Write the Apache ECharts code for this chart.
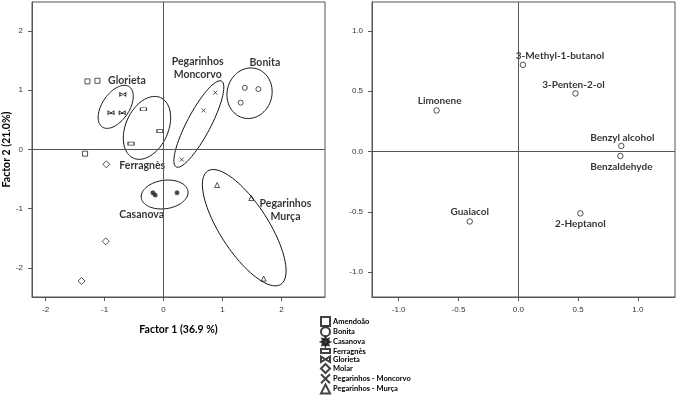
<!DOCTYPE html>
<html>
<head>
<meta charset="utf-8">
<script src="https://cdn.jsdelivr.net/npm/echarts@6/dist/echarts.min.js"></script>
<style>
  html, body { margin: 0; padding: 0; background: #fff; }
  #chart { width: 677px; height: 400px; }
</style>
</head>
<body>
<div id="chart"></div>
<script>
// ---- data: left panel (cultivar scores) ----
var amendoao = [[-1.29, 1.15], [-1.12, 1.16], [-1.33, -0.07]]
var bonita = [[1.38, 1.04], [1.61, 1.02], [1.31, 0.79]]
var casanova = [[-0.18, -0.73], [-0.14, -0.77], [0.23, -0.73]]
var ferragnes = [[-0.34, 0.68], [-0.06, 0.31], [-0.55, 0.10]]
var glorieta = [[-0.69, 0.93], [-0.89, 0.62], [-0.70, 0.62]]
var molar = [[-0.97, -0.25], [-0.98, -1.55], [-1.39, -2.22]]
var moncorvo = [[0.88, 0.96], [0.68, 0.66], [0.31, -0.17]]
var murca = [[0.91, -0.60], [1.49, -0.82], [1.70, -2.18]]

// group ellipses: cx, cy, semi-axis a, semi-axis b, angle (deg)
var ellipses = [
  [-0.81, 0.72, 0.41, 0.23, 56],
  [-0.28, 0.365, 0.56, 0.36, 65.5],
  [0.60, 0.43, 0.82, 0.20, 62],
  [1.46, 0.95, 0.43, 0.38, 75],
  [0.02, -0.76, 0.40, 0.24, 8],
  [1.37, -1.32, 1.14, 0.41, -57]
]
var groupLabels = [
  [-0.62, 1.16, 'Glorieta'],
  [0.58, 1.37, 'Pegarinhos\nMoncorvo'],
  [1.72, 1.47, 'Bonita'],
  [-0.36, -0.27, 'Ferragnès'],
  [-0.37, -1.10, 'Casanova'],
  [2.07, -1.02, 'Pegarinhos\nMurça']
]
var leftTicks = [-2, -1, 0, 1, 2]

// ---- data: right panel (compound loadings) ----
var compounds = ['Limonene', '3-Methyl-1-butanol', '3-Penten-2-ol', 'Benzyl alcohol', 'Benzaldehyde', 'Guaiacol', '2-Heptanol']
var compX = [-0.683, 0.039, 0.478, 0.861, 0.853, -0.406, 0.519]
var compY = [0.341, 0.719, 0.482, 0.047, -0.036, -0.579, -0.512]
var rightTicks = [-1, -0.5, 0, 0.5, 1]

var legendNames = ['Amendoão', 'Bonita', 'Casanova', 'Ferragnès', 'Glorieta', 'Molar', 'Pegarinhos - Moncorvo', 'Pegarinhos - Murça']

// ---- styles ----
var axisColor = '#555'
var boldFont = 'Lato'
var starPath = 'path://M10,0L5.54,2.3L7.07,7.07L2.3,5.54L0,10L-2.3,5.54L-7.07,7.07L-5.54,2.3L-10,0L-5.54,-2.3L-7.07,-7.07L-2.3,-5.54L0,-10L2.3,-5.54L7.07,-7.07L5.54,-2.3Z'
var rectPath = 'path://M0,0H18V8H0Z'
var bowPath = 'path://M0,0L0,6L10,0L10,6Z'
var crossPath = 'path://M0,0L10,10M10,0L0,10'

var openStyle = { color: 'rgba(0,0,0,0)', borderColor: '#111', borderWidth: 0.9 }
var labelPlace = {
  'Limonene': { position: 'top', distance: 1, offset: [3, 0] },
  '3-Methyl-1-butanol': { position: 'top', distance: 1, offset: [37, 0] },
  '3-Penten-2-ol': { position: 'top', distance: 0, offset: [-2, 0] },
  'Benzyl alcohol': { position: 'top', distance: 0, offset: [1, 0] },
  'Benzaldehyde': { position: 'bottom', distance: 3, offset: [1, 0] },
  'Guaiacol': { position: 'top', distance: 1, offset: [0, 0] },
  '2-Heptanol': { position: 'bottom', distance: 2, offset: [0, 0] }
}

function valueAxis(grid, min, max, ticks, fmt, extra) {
  var ax = {
    gridIndex: grid,
    type: 'value',
    min: min,
    max: max,
    axisLine: { show: true, onZero: false, lineStyle: { color: axisColor, width: 1 }},
    axisTick: { show: true, customValues: ticks, length: 4, lineStyle: { color: axisColor }},
    axisLabel: { customValues: ticks, fontSize: 8, color: '#333', fontFamily: 'Liberation Sans', margin: 9, formatter: fmt },
    splitLine: { show: false }
  }
  return Object.assign(ax, extra || {})
}

function pointSeries(name, data, symbol, size, style) {
  return {
    name: name,
    type: 'scatter',
    xAxisIndex: 0,
    yAxisIndex: 0,
    symbol: symbol,
    symbolSize: size,
    itemStyle: style,
    data: data,
    silent: true,
    z: 3
  }
}

var nameStyle = { fontFamily: boldFont, fontWeight: 'bold', fontSize: 10.5, color: '#000' }

var chart = echarts.init(document.getElementById('chart'))
var option = {
  backgroundColor: '#fff',
  animation: false,
  grid: [
    { left: 32, top: 2, width: 293, height: 295, show: true, borderColor: axisColor, borderWidth: 1, backgroundColor: 'transparent' },
    { left: 372, top: 2, width: 303, height: 295, show: true, borderColor: axisColor, borderWidth: 1, backgroundColor: 'transparent' }
  ],
  xAxis: [
    valueAxis(0, -2.23, 2.74, leftTicks, function(v) { return String(v) }, {
      name: 'Factor 1 (36.9 %)', nameLocation: 'middle', nameGap: 27, nameTextStyle: nameStyle
    }),
    valueAxis(1, -1.223, 1.31, rightTicks, function(v) { return v.toFixed(1) })
  ],
  yAxis: [
    valueAxis(0, -2.49, 2.49, leftTicks, function(v) { return String(v) }, {
      name: 'Factor 2 (21.0%)', nameLocation: 'middle', nameGap: 15, nameTextStyle: nameStyle
    }),
    valueAxis(1, -1.205, 1.24, rightTicks, function(v) { return v.toFixed(1) })
  ],
  legend: {
    orient: 'vertical',
    left: 320,
    top: 316,
    height: 120,
    padding: 0,
    itemWidth: 9,
    itemHeight: 9,
    itemGap: -0.8,
    symbolKeepAspect: true,
    selectedMode: false,
    textStyle: { fontFamily: boldFont, fontWeight: 'bold', fontSize: 7.5, color: '#000', lineHeight: 9, padding: [0, 0, 0, -2] },
    data: [
      { name: legendNames[0], icon: 'rect' },
      { name: legendNames[1], icon: 'circle' },
      { name: legendNames[2], icon: starPath },
      { name: legendNames[3], icon: rectPath },
      { name: legendNames[4], icon: bowPath },
      { name: legendNames[5], icon: 'diamond' },
      { name: legendNames[6], icon: crossPath },
      { name: legendNames[7], icon: 'triangle' }
    ]
  },
  series: [
    pointSeries(legendNames[0], amendoao, 'rect', 5, openStyle),
    pointSeries(legendNames[1], bonita, 'circle', 5, openStyle),
    pointSeries(legendNames[2], casanova, starPath, 5, { color: '#111', borderColor: '#111', borderWidth: 0.5 }),
    pointSeries(legendNames[3], ferragnes, rectPath, [6, 3], openStyle),
    pointSeries(legendNames[4], glorieta, bowPath, [6, 3.5], openStyle),
    pointSeries(legendNames[5], molar, 'diamond', 7, openStyle),
    pointSeries(legendNames[6], moncorvo, crossPath, 4, openStyle),
    pointSeries(legendNames[7], murca, 'triangle', 5, openStyle),
    {
      name: 'ellipses',
      type: 'custom',
      xAxisIndex: 0,
      yAxisIndex: 0,
      silent: true,
      data: ellipses,
      encode: { x: 0, y: 1 },
      renderItem: function(params, api) {
        var cx = api.value(0), cy = api.value(1), a = api.value(2), b = api.value(3)
        var th = api.value(4) * Math.PI / 180
        var pts = []
        for (var i = 0; i < 96; i++) {
          var t = i / 96 * Math.PI * 2
          var x = cx + a * Math.cos(t) * Math.cos(th) - b * Math.sin(t) * Math.sin(th)
          var y = cy + a * Math.cos(t) * Math.sin(th) + b * Math.sin(t) * Math.cos(th)
          pts.push(api.coord([x, y]))
        }
        return { type: 'polygon', shape: { points: pts }, style: { fill: 'none', stroke: '#111', lineWidth: 1 }}
      },
      z: 2
    },
    {
      name: 'groupLabels',
      type: 'scatter',
      xAxisIndex: 0,
      yAxisIndex: 0,
      silent: true,
      symbolSize: 1,
      itemStyle: { color: 'rgba(0,0,0,0)' },
      data: groupLabels.map(function(g) { return { value: [g[0], g[1]], name: g[2] } }),
      label: {
        show: true, position: 'inside', formatter: '{b}', align: 'center',
        fontFamily: boldFont, fontWeight: 'bold', fontSize: 10.5, lineHeight: 13, color: '#000'
      },
      z: 4
    },
    {
      name: 'zeroLeft',
      type: 'scatter',
      xAxisIndex: 0,
      yAxisIndex: 0,
      data: [],
      markLine: {
        silent: true, symbol: 'none', animation: false,
        label: { show: false },
        lineStyle: { color: axisColor, width: 1, type: 'solid' },
        data: [{ xAxis: 0 }, { yAxis: 0 }]
      }
    },
    {
      name: 'compounds',
      type: 'scatter',
      xAxisIndex: 1,
      yAxisIndex: 1,
      silent: true,
      symbol: 'circle',
      symbolSize: 5.5,
      itemStyle: openStyle,
      data: compounds.map(function(n, i) {
        return { value: [compX[i], compY[i]], name: n, label: labelPlace[n] }
      }),
      label: {
        show: true, formatter: '{b}',
        fontFamily: boldFont, fontWeight: 'bold', fontSize: 10, color: '#000'
      },
      markLine: {
        silent: true, symbol: 'none', animation: false,
        label: { show: false },
        lineStyle: { color: axisColor, width: 1, type: 'solid' },
        data: [{ xAxis: 0 }, { yAxis: 0 }]
      },
      z: 3
    }
  ]
}
chart.setOption(option)
</script>
</body>
</html>
